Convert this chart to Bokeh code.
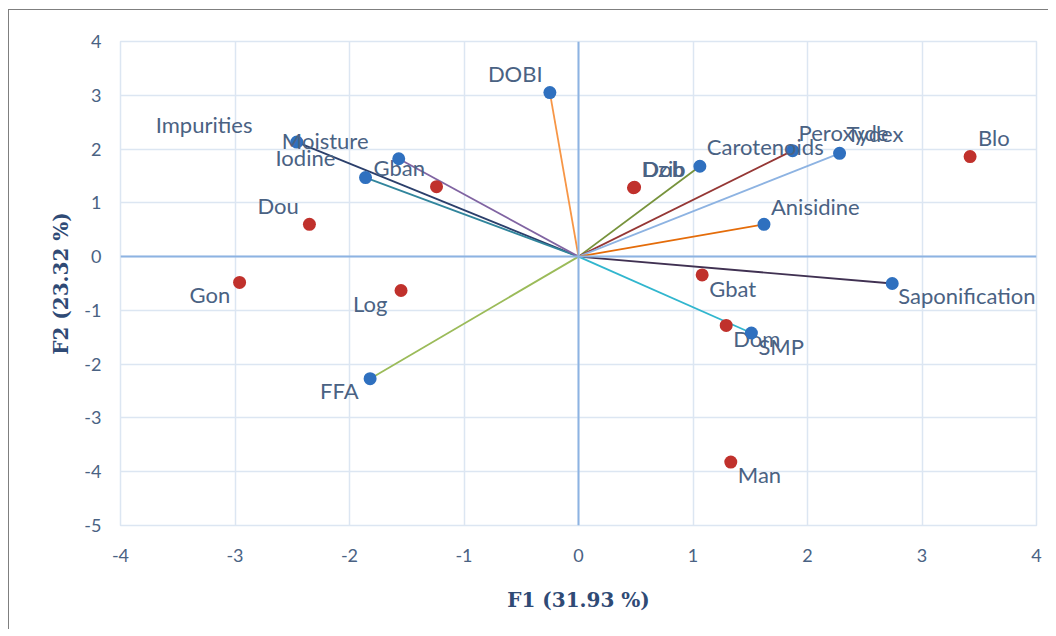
from bokeh.plotting import figure
from bokeh.models import ColumnDataSource, FixedTicker, Span, PrintfTickFormatter
from bokeh.core.properties import value
from bokeh.embed import file_html
from bokeh.resources import INLINE

# ---- data ----
var_names = ["Moisture", "Iodine", "Impurities", "DOBI", "Carotenoids", "Peroxyde",
             "Tydex", "Anisidine", "Saponification", "SMP", "FFA"]
var_f1 = [-2.46, -1.86, -1.57, -0.25, 1.06, 1.87, 2.28, 1.62, 2.74, 1.51, -1.82]
var_f2 = [2.13, 1.47, 1.82, 3.05, 1.68, 1.97, 1.92, 0.60, -0.50, -1.42, -2.27]

obs_names = ["Gon", "Dou", "Log", "Gban", "Dzib", "Dob", "Gbat", "Dom", "Man", "Blo"]
obs_f1 = [-2.96, -2.35, -1.55, -1.24, 0.48, 0.49, 1.08, 1.29, 1.33, 3.42]
obs_f2 = [-0.48, 0.60, -0.63, 1.30, 1.28, 1.29, -0.34, -1.28, -3.82, 1.86]

x_ticks = [-4, -3, -2, -1, 0, 1, 2, 3, 4]
y_ticks = [-5, -4, -3, -2, -1, 0, 1, 2, 3, 4]

# ---- styles ----
var_colors = ["#2B3F6B", "#31859C", "#8064A2", "#F79646", "#77933C", "#953735",
              "#8DB3E2", "#E46C0A", "#403152", "#31B6CE", "#9BBB59"]
var_dx = [-15, -90, -243, -62, 7, 6, 7, 7, 6, 7, -50]
var_dy = [-2, -20, -34, -19, -20, -18, -20, -18, 12, 14, 12]
obs_dx = [-50, -52, -48, -63, 8, 8, 7, 7, 7, 8]
obs_dy = [12, -19, 13, -19, -19, -19, 14, 13, 12, -19]

TXT = "#4A6283"
GRID = "#DCE6F2"
ZERO = "#8DB3E2"

p = figure(width=1040, height=620, output_backend="svg", toolbar_location=None,
           x_range=(-4, 4), y_range=(-5, 4),
           min_border_left=111, min_border_top=31, min_border_right=13, min_border_bottom=105,
           outline_line_color=GRID, outline_line_width=1.5)
p.styles = {"border-left": "1.5px solid #7F7F7F", "border-top": "1.5px solid #7F7F7F",
            "margin-left": "8px", "margin-top": "9px"}

p.xaxis.ticker = FixedTicker(ticks=x_ticks)
p.yaxis.ticker = FixedTicker(ticks=y_ticks)
for ax in (p.xaxis, p.yaxis):
    ax.formatter = PrintfTickFormatter(format="%d")
    ax.axis_line_color = None
    ax.major_tick_line_color = None
    ax.minor_tick_line_color = None
    ax.major_label_text_font = "Lato"
    ax.major_label_text_font_size = "18px"
    ax.major_label_text_color = TXT
    ax.axis_label_text_font = "DejaVu Serif"
    ax.axis_label_text_font_style = "bold"
    ax.axis_label_text_font_size = "20px"
    ax.axis_label_text_color = "#2F4A75"
p.xaxis.axis_label = "F1 (31.93 %)"
p.yaxis.axis_label = "F2 (23.32 %)"
p.xaxis.major_label_standoff = 17
p.yaxis.major_label_standoff = 13
p.xaxis.axis_label_standoff = 23
p.yaxis.axis_label_standoff = 8

p.xgrid.ticker = FixedTicker(ticks=x_ticks)
p.ygrid.ticker = FixedTicker(ticks=y_ticks)
p.xgrid.grid_line_color = GRID
p.ygrid.grid_line_color = GRID
p.xgrid.grid_line_width = 1.5
p.ygrid.grid_line_width = 1.5

p.add_layout(Span(location=0, dimension="width", line_color=ZERO, line_width=2))
p.add_layout(Span(location=0, dimension="height", line_color=ZERO, line_width=2))

# vectors from origin
for xv, yv, c in zip(var_f1, var_f2, var_colors):
    p.line([0, xv], [0, yv], line_color=c, line_width=1.8)

vsrc = ColumnDataSource(dict(x=var_f1, y=var_f2, t=var_names, dx=var_dx, dy=var_dy))
osrc = ColumnDataSource(dict(x=obs_f1, y=obs_f2, t=obs_names, dx=obs_dx, dy=obs_dy))

for src, col in ((osrc, "#C0312C"), (vsrc, "#2F70BF")):
    p.scatter("x", "y", source=src, size=13, fill_color=col, line_color=None)
    p.text("x", "y", text="t", source=src, x_offset="dx", y_offset="dy",
           text_font=value("Lato"), text_font_size="22px", text_color=TXT,
           text_align="left", text_baseline="middle")

open("out.html", "w").write(file_html(p, INLINE))
